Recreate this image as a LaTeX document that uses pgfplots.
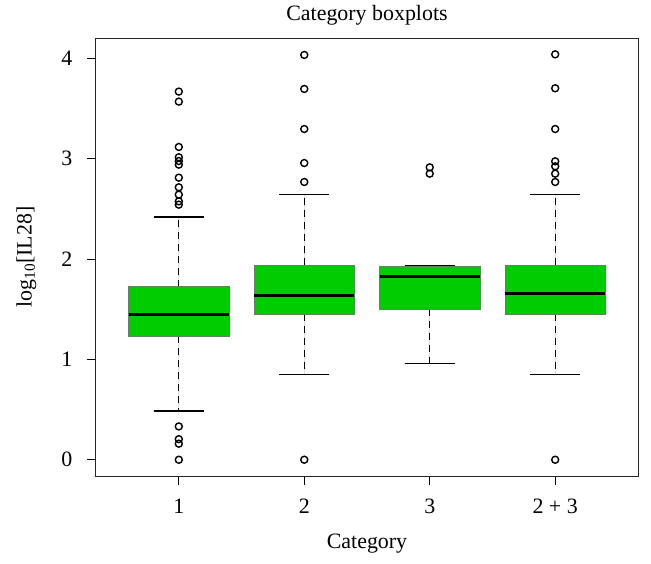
\documentclass[border=0pt]{standalone}
\usepackage{pgfplots}
\pgfplotsset{compat=1.18}
\usepgfplotslibrary{statistics}
\usepackage{fontspec}
\setmainfont{Liberation Serif}

\definecolor{boxgreen}{RGB}{0,205,0}
\definecolor{boxedge}{RGB}{95,130,95}

\pgfplotsset{
  rbox/.style={
    boxplot/draw direction=y,
    boxplot/box extend=0.8,
    boxplot/whisker extend=0.4,
    boxplot/every median/.style={black, line width=2.4bp},
    boxplot/draw/lower whisker/.code={
      \draw[black, line width=1.2bp, dash pattern=on 7bp off 5bp]
        (boxplot cs:\pgfplotsboxplotvalue{lower quartile}) --
        (boxplot cs:\pgfplotsboxplotvalue{lower whisker});
      \draw[black, line width=1.2bp]
        (boxplot whisker cs:\pgfplotsboxplotvalue{lower whisker},0) --
        (boxplot whisker cs:\pgfplotsboxplotvalue{lower whisker},1);
    },
    boxplot/draw/upper whisker/.code={
      \draw[black, line width=1.2bp, dash pattern=on 7bp off 5bp]
        (boxplot cs:\pgfplotsboxplotvalue{upper quartile}) --
        (boxplot cs:\pgfplotsboxplotvalue{upper whisker});
      \draw[black, line width=1.2bp]
        (boxplot whisker cs:\pgfplotsboxplotvalue{upper whisker},0) --
        (boxplot whisker cs:\pgfplotsboxplotvalue{upper whisker},1);
    },
    fill=boxgreen, draw=boxedge, line width=0.8bp,
    mark=o, mark size=3.5bp,
    mark options={black, solid, line width=1.4bp, fill=none},
  },
}

\begin{document}
\begin{tikzpicture}[font=\fontsize{22}{26}\selectfont]
\begin{axis}[
    scale only axis,
    width=542bp, height=437.7bp,
    at={(0,0)}, anchor=south west,
    xmin=0.34, xmax=4.66,
    ymin=-0.162, ymax=4.20,
    xtick={1,2,3,4},
    xticklabels={1,2,3,2 + 3},
    ytick={0,1,2,3,4},
    xtick pos=bottom, ytick pos=left,
    tick align=outside,
    major tick length=9bp,
    tick style={black, line width=1bp},
    axis line style={black!85, line width=1bp},
    /pgf/number format/assume math mode=true,
    xticklabel style={anchor=base, inner sep=0pt, yshift=-28bp},
    yticklabel style={anchor=east, inner sep=0pt, xshift=-14.5bp},
    title={Category boxplots},
    title style={at={([yshift=12.3bp]axis description cs:0.5,1)}, anchor=base, inner sep=0pt},
    xlabel={Category},
    xlabel style={at={([yshift=-72bp]axis description cs:0.5,0)}, anchor=base, inner sep=0pt},
    ylabel={log\textsubscript{10}[IL28]},
    ylabel style={at={([xshift=-64.3bp]axis description cs:0,0.5)}, anchor=base, inner sep=0pt},
  ]
% category 1
\addplot[rbox, boxplot prepared={draw position=1,
    lower whisker=0.485, lower quartile=1.233, median=1.449,
    upper quartile=1.725, upper whisker=2.419}]
  table[row sep=\\, y index=0] {
  data\\ 0\\ 0.160\\ 0.205\\ 0.332\\
  2.542\\ 2.575\\ 2.642\\ 2.715\\ 2.811\\ 2.941\\ 2.977\\ 3.014\\ 3.117\\ 3.569\\ 3.669\\
};
% category 2
\addplot[rbox, boxplot prepared={draw position=2,
    lower whisker=0.847, lower quartile=1.449, median=1.638,
    upper quartile=1.937, upper whisker=2.645}]
  table[row sep=\\, y index=0] {
  data\\ 0\\ 2.768\\ 2.957\\ 3.296\\ 3.695\\ 4.034\\
};
% category 3
\addplot[rbox, boxplot prepared={draw position=3,
    lower whisker=0.957, lower quartile=1.498, median=1.827,
    upper quartile=1.930, upper whisker=1.937}]
  table[row sep=\\, y index=0] {
  data\\ 2.851\\ 2.914\\
};
% category 2 + 3
\addplot[rbox, boxplot prepared={draw position=4,
    lower whisker=0.847, lower quartile=1.449, median=1.655,
    upper quartile=1.937, upper whisker=2.645}]
  table[row sep=\\, y index=0] {
  data\\ 0\\ 2.768\\ 2.851\\ 2.924\\ 2.974\\ 3.296\\ 3.702\\ 4.040\\
};
\end{axis}
\pgfresetboundingbox
\path ([shift={(-96bp,-88bp)}]current axis.south west)
  rectangle ([shift={(13bp,38.3bp)}]current axis.north east);
\end{tikzpicture}
\end{document}
